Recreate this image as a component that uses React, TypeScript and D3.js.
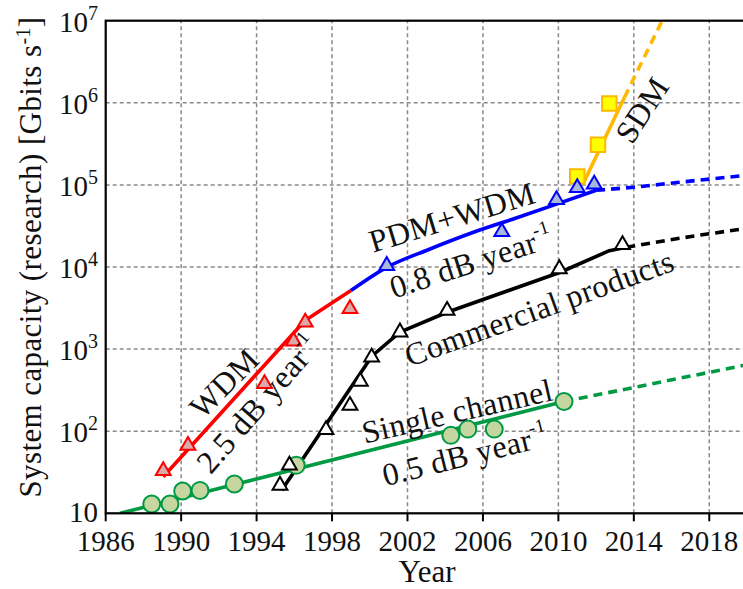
import React from 'react';
import * as d3 from 'd3';

const W = 743;
const H = 589;
const FONT = '"Liberation Serif", "DejaVu Serif", serif';

// axis ticks
const xTicks = [1986, 1990, 1994, 1998, 2002, 2006, 2010, 2014, 2018];
const yTicks = [10, 1e2, 1e3, 1e4, 1e5, 1e6, 1e7];

// Single channel (green circles)
const singleYears = [1988.44, 1989.41, 1990.08, 1991.0, 1992.82, 1996.1, 2004.3, 2005.2, 2006.6, 2010.3];
const singleValues = [13.0, 13.0, 18.7, 19.0, 22.7, 38.4, 89, 106, 106, 230];
const singleFitYears = [1986.76, 2010.3];
const singleFitValues = [10, 230];
const singleExtYears = [2010.3, 2020];
const singleExtValues = [230, 645];

// WDM (red triangles)
const wdmYears = [1989.05, 1990.36, 1994.42, 1995.96, 1996.58, 1998.95];
const wdmValues = [33, 67, 378, 1250, 2120, 3100];
const wdmFitYears = [1989.05, 1996.57, 1999.0];
const wdmFitValues = [27.9, 2230, 5160];

// PDM+WDM (blue triangles)
const pdmYears = [2000.9, 2007.0, 2009.9, 2011.0, 2011.9];
const pdmValues = [10400, 26900, 66000, 92500, 102000];
const pdmFitYears = [1999.0, 2000.9, 2003.0, 2005.5, 2007.8, 2009.9, 2012.0];
const pdmFitValues = [5160, 9900, 15900, 26500, 39800, 58300, 85900];
const pdmExtYears = [2012.0, 2014.0, 2016.3, 2020];
const pdmExtValues = [85900, 93800, 107000, 131000];

// Commercial products (black triangles)
const comYears = [1995.24, 1995.74, 1997.68, 1998.95, 1999.5, 2000.1, 2001.6, 2004.1, 2010.05, 2013.4];
const comValues = [21.9, 38.4, 104, 206, 404, 795, 1610, 2950, 9480, 18700];
const comFitYears = [1995.33, 2000.12, 2001.6, 2004.1, 2010.1, 2012.7, 2013.6];
const comFitValues = [19.1, 824, 1610, 2810, 8630, 15800, 17400];
const comExtYears = [2013.6, 2016.7, 2020];
const comExtValues = [17400, 22900, 29500];

// SDM (yellow squares)
const sdmYears = [2011.0, 2012.1, 2012.7];
const sdmValues = [127000, 309000, 980000];
const sdmFitYears = [2011.3, 2013.5];
const sdmFitValues = [102000, 1160000];
const sdmExtYears = [2013.5, 2015.5];
const sdmExtValues = [1160000, 1e7];

// annotations: text, superscript, year, value, angle
const labelTexts = ['WDM', '2.5 dB year', 'PDM+WDM', '0.8 dB year', 'Commercial products', 'Single channel', '0.5 dB year', 'SDM'];
const labelSups = ['', '-1', '', '-1', '', '', '-1', ''];
const labelYears = [1992.27, 1994.07, 2004.36, 2005.37, 2008.98, 2004.63, 2005.05, 2014.43];
const labelValues = [386, 214, 40600, 11500, 3160, 176, 51.3, 817000];
const labelAngles = [-45, -49, -17, -18, -20, -13, -14, -57];

const x = d3.scaleLinear().domain([1986, 2020]).range([105.7, 747]);
const y = d3.scaleLog().domain([10, 1e7]).range([513.3, 20.7]);

const pts = (xs: number[], vs: number[]) => xs.map((d, i) => [d, vs[i]] as [number, number]);

const smoothLine = d3
  .line<[number, number]>()
  .x((d) => x(d[0]))
  .y((d) => y(d[1]))
  .curve(d3.curveMonotoneX);
const straightLine = d3
  .line<[number, number]>()
  .x((d) => x(d[0]))
  .y((d) => y(d[1]));

const triPath = d3.symbol(d3.symbolTriangle, 95)() as string;
const sqPath = d3.symbol(d3.symbolSquare, 210)() as string;

export default function App() {
  const [xa, xb] = x.range();
  const [ya, yb] = y.range();
  const series = [
    { fit: pts(singleFitYears, singleFitValues), ext: pts(singleExtYears, singleExtValues), color: '#009a44', smooth: false },
    { fit: pts(comFitYears, comFitValues), ext: pts(comExtYears, comExtValues), color: '#000000', smooth: false },
    { fit: pts(wdmFitYears, wdmFitValues), ext: null, color: '#ff0000', smooth: false },
    { fit: pts(sdmFitYears, sdmFitValues), ext: pts(sdmExtYears, sdmExtValues), color: '#ffb800', smooth: false },
    { fit: pts(pdmFitYears, pdmFitValues), ext: pts(pdmExtYears, pdmExtValues), color: '#0000ff', smooth: true },
  ];
  return (
    <svg
      width={W}
      height={H}
      style={{ position: 'absolute', left: 0, top: 0, background: '#fff' }}
      fontFamily={FONT}
    >
      <defs>
        <clipPath id="plot">
          <rect x={xa} y={yb} width={xb - xa} height={ya - yb} />
        </clipPath>
      </defs>
      <rect width={W} height={H} fill="#fff" />
      {/* grid */}
      <g stroke="#8a8a8a" strokeWidth={1.5} strokeDasharray="4,3">
        {xTicks.slice(1).map((t) => (
          <line key={'gx' + t} x1={x(t)} x2={x(t)} y1={ya} y2={yb} />
        ))}
        {yTicks.slice(1, -1).map((t) => (
          <line key={'gy' + t} x1={xa} x2={xb} y1={y(t)} y2={y(t)} />
        ))}
      </g>
      {/* lines */}
      <g clipPath="url(#plot)" fill="none" strokeWidth={3.6} strokeLinejoin="round">
        {series.map((s, i) => {
          const g = s.smooth ? smoothLine : straightLine;
          return (
            <g key={'s' + i} stroke={s.color}>
              <path d={g(s.fit) as string} />
              {s.ext && <path d={smoothLine(s.ext) as string} strokeDasharray="9,6" />}
            </g>
          );
        })}
      </g>
      {/* markers */}
      <g fill="#c6d6a0" stroke="#009a44" strokeWidth={2}>
        {singleYears.map((d, i) => (
          <circle key={'c' + i} cx={x(d)} cy={y(singleValues[i])} r={8.5} />
        ))}
      </g>
      <g fill="#ffffff" stroke="#000000" strokeWidth={2}>
        {comYears.map((d, i) => (
          <path key={'k' + i} d={triPath} transform={`translate(${x(d)},${y(comValues[i])})`} />
        ))}
      </g>
      <g fill="#dca8a8" stroke="#ff0000" strokeWidth={2}>
        {wdmYears.map((d, i) => (
          <path key={'r' + i} d={triPath} transform={`translate(${x(d)},${y(wdmValues[i])})`} />
        ))}
      </g>
      <g fill="#ffff00" stroke="#ffb800" strokeWidth={2}>
        {sdmYears.map((d, i) => (
          <path key={'q' + i} d={sqPath} transform={`translate(${x(d)},${y(sdmValues[i])})`} />
        ))}
      </g>
      <g fill="#a8b8dc" stroke="#0000ff" strokeWidth={2}>
        {pdmYears.map((d, i) => (
          <path key={'b' + i} d={triPath} transform={`translate(${x(d)},${y(pdmValues[i])})`} />
        ))}
      </g>
      {/* annotations */}
      <g fontSize={32} fill="#111" letterSpacing={0.4}>
        {labelTexts.map((t, i) => (
          <text
            key={'l' + i}
            transform={`translate(${x(labelYears[i])},${y(labelValues[i])}) rotate(${labelAngles[i]})`}
            textAnchor="middle"
            dominantBaseline="central"
          >
            {t}
            {labelSups[i] && (
              <tspan fontSize={19} dy={-11}>
                {labelSups[i]}
              </tspan>
            )}
          </text>
        ))}
      </g>
      {/* frame */}
      <rect x={xa} y={yb} width={xb - xa} height={ya - yb} fill="none" stroke="#000" strokeWidth={2.2} />
      {/* x axis ticks */}
      <g stroke="#000" strokeWidth={2}>
        {xTicks.map((t) => (
          <line key={'tx' + t} x1={x(t)} x2={x(t)} y1={ya} y2={ya + 8} />
        ))}
      </g>
      <g fontSize={29} fill="#111" textAnchor="middle">
        {xTicks.map((t) => (
          <text key={'lx' + t} x={x(t)} y={ya + 38}>
            {t}
          </text>
        ))}
      </g>
      <g fontSize={29} fill="#111" textAnchor="end">
        {yTicks.map((t) => {
          const e = Math.round(Math.log10(t));
          return (
            <text key={'ly' + t} x={98} y={y(t) + (e > 1 ? 11 : 9)}>
              10
              {e > 1 && (
                <tspan fontSize={20} dy={-12}>
                  {e}
                </tspan>
              )}
            </text>
          );
        })}
      </g>
      <text x={427} y={582} fontSize={31} textAnchor="middle" fill="#111">
        Year
      </text>
      <text
        transform={`translate(41,257) rotate(-90)`}
        fontSize={31}
        letterSpacing={0.4}
        textAnchor="middle"
        fill="#111"
      >
        System capacity (research) [Gbits s
        <tspan fontSize={20} dy={-11}>
          -1
        </tspan>
        <tspan dy={11}>]</tspan>
      </text>
    </svg>
  );
}
